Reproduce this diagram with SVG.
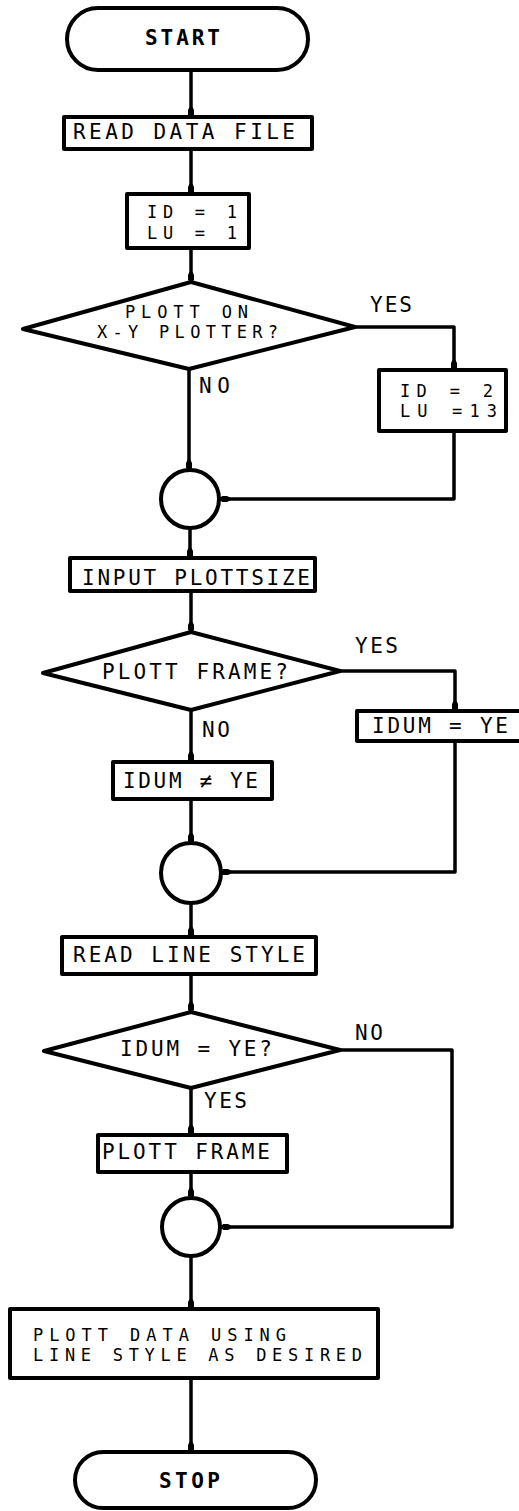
<svg xmlns="http://www.w3.org/2000/svg" width="519" height="1511" viewBox="0 0 519 1511">
<defs>
<marker id="blob" viewBox="0 -4 10 8" refX="10" refY="0" markerWidth="10" markerHeight="8" markerUnits="userSpaceOnUse" orient="auto">
<path d="M0,-1.5 L3,-3 L8,-3 L10,0 L8,3 L3,3 L0,1.5 Z" fill="#000"/>
</marker>
<style>
.s{fill:#fff;stroke:#000;stroke-width:4;stroke-linejoin:round}
.c{fill:none;stroke:#000;stroke-width:3.5;stroke-linejoin:round}
.t{font-family:"DejaVu Sans Mono","Liberation Mono",monospace;font-size:21px;fill:#000}
.m{font-size:17px}
.b{font-weight:bold}
</style>
</defs>
<rect width="519" height="1511" fill="#fff"/>
<g id="connectors">
<path class="c" d="M191,70 V117" marker-end="url(#blob)"/>
<path class="c" d="M191,149 V194" marker-end="url(#blob)"/>
<path class="c" d="M191,248 V282" marker-end="url(#blob)"/>
<path class="c" d="M355,327 H454 V370" marker-end="url(#blob)"/>
<path class="c" d="M454,431 V499 H220" marker-end="url(#blob)"/>
<path class="c" d="M189,369 V470" marker-end="url(#blob)"/>
<path class="c" d="M190,528 V558" marker-end="url(#blob)"/>
<path class="c" d="M191,591 V632" marker-end="url(#blob)"/>
<path class="c" d="M340,671 H455 V711" marker-end="url(#blob)"/>
<path class="c" d="M455,741 V872 H221" marker-end="url(#blob)"/>
<path class="c" d="M191,710 V762" marker-end="url(#blob)"/>
<path class="c" d="M191,799 V843" marker-end="url(#blob)"/>
<path class="c" d="M191,903 V937" marker-end="url(#blob)"/>
<path class="c" d="M191,974 V1012" marker-end="url(#blob)"/>
<path class="c" d="M340,1050 H452 V1227 H221" marker-end="url(#blob)"/>
<path class="c" d="M191,1088 V1135" marker-end="url(#blob)"/>
<path class="c" d="M191,1172 V1198" marker-end="url(#blob)"/>
<path class="c" d="M191,1256 V1309" marker-end="url(#blob)"/>
<path class="c" d="M191,1378 V1452" marker-end="url(#blob)"/>
</g>
<g id="start">
<rect class="s" x="67" y="8" width="241" height="62" rx="31"/>
<text class="t b" x="145" y="45" textLength="75" lengthAdjust="spacing">START</text>
</g>
<g id="read-data-file">
<rect class="s" x="64" y="117" width="248" height="32"/>
<text class="t" x="73" y="139" textLength="222" lengthAdjust="spacing">READ DATA FILE</text>
</g>
<g id="init">
<rect class="s" x="127" y="194" width="122" height="54"/>
<text class="t m" x="147" y="218" textLength="90" lengthAdjust="spacing">ID = 1</text>
<text class="t m" x="147" y="239" textLength="90" lengthAdjust="spacing">LU = 1</text>
</g>
<g id="decision-plotter">
<polygon class="s" points="191,282 355,327 189,369 23,329"/>
<text class="t m" x="125" y="318" textLength="123" lengthAdjust="spacing">PLOTT ON</text>
<text class="t m" x="97" y="338" textLength="181" lengthAdjust="spacing">X-Y PLOTTER?</text>
<text class="t" x="370" y="312" textLength="42" lengthAdjust="spacing">YES</text>
<text class="t" x="199" y="393" textLength="31" lengthAdjust="spacing">NO</text>
</g>
<g id="set-plotter">
<rect class="s" x="379" y="370" width="127" height="61"/>
<text class="t m" x="400" y="397" textLength="93" lengthAdjust="spacing">ID = 2</text>
<text class="t m" x="400" y="417" textLength="97" lengthAdjust="spacing">LU =13</text>
</g>
<g id="join1">
<circle class="s" cx="190" cy="499" r="29"/>
</g>
<g id="input-plottsize">
<rect class="s" x="70" y="558" width="245" height="33"/>
<text class="t" x="82" y="585" textLength="228" lengthAdjust="spacing">INPUT PLOTTSIZE</text>
</g>
<g id="decision-frame">
<polygon class="s" points="191,632 340,671 191,710 43,673"/>
<text class="t" x="102" y="679" textLength="186" lengthAdjust="spacing">PLOTT FRAME?</text>
<text class="t" x="355" y="653" textLength="43" lengthAdjust="spacing">YES</text>
<text class="t" x="202" y="737" textLength="28" lengthAdjust="spacing">NO</text>
</g>
<g id="idum-ye">
<rect class="s" x="357" y="711" width="180" height="30"/>
<text class="t" x="372" y="733" textLength="136" lengthAdjust="spacing">IDUM = YE</text>
</g>
<g id="idum-not-ye">
<rect class="s" x="113" y="762" width="159" height="37"/>
<text class="t" x="123" y="788" textLength="135" lengthAdjust="spacing">IDUM ≠ YE</text>
</g>
<g id="join2">
<circle class="s" cx="191" cy="873" r="30"/>
</g>
<g id="read-line-style">
<rect class="s" x="62" y="937" width="254" height="37"/>
<text class="t" x="73" y="962" textLength="232" lengthAdjust="spacing">READ LINE STYLE</text>
</g>
<g id="decision-idum">
<polygon class="s" points="191,1012 340,1050 191,1088 44,1051"/>
<text class="t" x="120" y="1056" textLength="152" lengthAdjust="spacing">IDUM = YE?</text>
<text class="t" x="355" y="1040" textLength="28" lengthAdjust="spacing">NO</text>
<text class="t" x="204" y="1108" textLength="43" lengthAdjust="spacing">YES</text>
</g>
<g id="plott-frame">
<rect class="s" x="98" y="1135" width="189" height="37"/>
<text class="t" x="102" y="1159" textLength="168" lengthAdjust="spacing">PLOTT FRAME</text>
</g>
<g id="join3">
<circle class="s" cx="191" cy="1227" r="29"/>
</g>
<g id="plott-data">
<rect class="s" x="10" y="1309" width="368" height="69"/>
<text class="t m" x="33" y="1341" textLength="253" lengthAdjust="spacing">PLOTT DATA USING</text>
<text class="t m" x="33" y="1361" textLength="329" lengthAdjust="spacing">LINE STYLE AS DESIRED</text>
</g>
<g id="stop">
<rect class="s" x="75" y="1452" width="241" height="56" rx="28"/>
<text class="t b" x="159" y="1488" textLength="61" lengthAdjust="spacing">STOP</text>
</g>
</svg>
